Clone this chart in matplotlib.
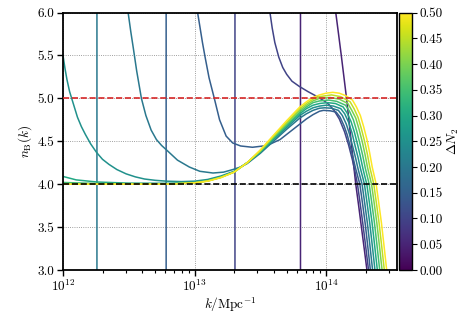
import numpy as np
import matplotlib
matplotlib.use("Agg")
import matplotlib.pyplot as plt
from matplotlib import cm, colors, ticker

plt.rcParams["font.family"] = "serif"
plt.rcParams["font.serif"] = ["cmr10", "DejaVu Serif"]
plt.rcParams["mathtext.fontset"] = "cm"
plt.rcParams["axes.formatter.use_mathtext"] = True
plt.rcParams["font.size"] = 9.5

# Delta N_2 of each curve
dn2 = [0.05, 0.10, 0.15, 0.20, 0.25, 0.30, 0.35, 0.40, 0.45, 0.50]

# log10(k / Mpc^-1) and n_B (a pole is drawn as a jump)
logk_05 = [13.805, 13.805, 14.05, 14.073, 14.095, 14.115, 14.135, 14.155, 14.172, 14.19,
           14.207, 14.225, 14.247, 14.268, 14.29, 14.31, 14.33]
nB_05 = [2.0, 9.0, 7.0, 6.0, 5.74, 5.5, 5.25, 5.0, 4.76, 4.5,
         4.25, 4.0, 3.75, 3.5, 3.24, 3.0, 2.7]

logk_10 = [13.307, 13.307, 13.52, 13.573, 13.59, 13.61, 13.64, 13.67, 13.70, 13.74, 13.795,
           13.86, 13.92, 13.985, 14.02, 14.06, 14.10, 14.14, 14.17, 14.20, 14.22, 14.238,
           14.258, 14.278, 14.30, 14.322, 14.345]
nB_10 = [2.0, 9.0, 7.0, 6.0, 5.82, 5.65, 5.48, 5.36, 5.28, 5.20, 5.14,
         5.08, 5.03, 4.97, 4.93, 4.86, 4.76, 4.61, 4.46, 4.28, 4.14, 4.0,
         3.78, 3.55, 3.28, 3.0, 2.7]

logk_15 = [12.784, 12.784, 12.99, 13.023, 13.04, 13.06, 13.08, 13.11, 13.15, 13.19, 13.24,
           13.29, 13.35, 13.44, 13.55, 13.65, 13.75, 13.8, 13.85, 13.9, 13.95, 13.98, 14.03,
           14.076, 14.106, 14.136, 14.161, 14.186, 14.206, 14.226, 14.241, 14.256, 14.276,
           14.296, 14.316, 14.336, 14.356]
nB_15 = [2.0, 9.0, 6.5, 6.0, 5.84, 5.65, 5.48, 5.24, 5.0, 4.75, 4.56,
         4.48, 4.445, 4.43, 4.45, 4.52, 4.64, 4.70, 4.76, 4.81, 4.85, 4.86, 4.855,
         4.84, 4.78, 4.68, 4.57, 4.42, 4.30, 4.17, 4.085, 4.0, 3.78,
         3.55, 3.28, 3.0, 2.7]

logk_20 = [12.258, 12.258, 12.47, 12.495, 12.515, 12.535, 12.56, 12.596, 12.63, 12.67, 12.71,
           12.75, 12.786, 12.87, 12.96, 13.04, 13.14, 13.22, 13.29, 13.35, 13.4, 13.5, 13.6,
           13.7, 13.8, 13.85, 13.9, 13.95, 13.99, 14.04, 14.093, 14.123, 14.153, 14.178,
           14.203, 14.223, 14.243, 14.258, 14.273, 14.293, 14.313, 14.333, 14.353, 14.373]
nB_20 = [2.0, 9.0, 6.5, 6.0, 5.78, 5.58, 5.32, 5.0, 4.80, 4.63, 4.52,
         4.45, 4.40, 4.28, 4.20, 4.15, 4.13, 4.14, 4.17, 4.20, 4.24, 4.36, 4.50,
         4.64, 4.77, 4.82, 4.86, 4.885, 4.89, 4.885, 4.86, 4.80, 4.70, 4.58,
         4.43, 4.31, 4.175, 4.087, 4.0, 3.78, 3.55, 3.28, 3.0, 2.7]

logk_25 = [12.0, 12.015, 12.03, 12.05, 12.066, 12.09, 12.11, 12.14, 12.17, 12.21, 12.255,
           12.30, 12.35, 12.41, 12.48, 12.55, 12.62, 12.70, 12.786, 12.9, 13.0, 13.1, 13.2,
           13.3, 13.4, 13.5, 13.6, 13.7, 13.8, 13.85, 13.9, 13.95, 14.0, 14.055, 14.111,
           14.141, 14.171, 14.196, 14.221, 14.241, 14.261, 14.276, 14.291, 14.311, 14.331,
           14.351, 14.371, 14.391]
nB_25 = [5.50, 5.35, 5.22, 5.08, 5.0, 4.88, 4.78, 4.67, 4.58, 4.47, 4.37,
         4.29, 4.23, 4.17, 4.12, 4.085, 4.06, 4.045, 4.035, 4.03, 4.035, 4.055, 4.095,
         4.15, 4.25, 4.37, 4.52, 4.66, 4.80, 4.85, 4.89, 4.91, 4.92, 4.91, 4.88,
         4.82, 4.72, 4.60, 4.44, 4.32, 4.18, 4.09, 4.0, 3.78, 3.55,
         3.28, 3.0, 2.7]

logk_30 = [12.0, 12.1, 12.26, 12.5, 12.8, 13.0, 13.1, 13.2, 13.3, 13.4, 13.5, 13.6, 13.7,
           13.8, 13.85, 13.9, 13.95, 14.01, 14.07, 14.129, 14.159, 14.189, 14.214, 14.239,
           14.259, 14.279, 14.294, 14.309, 14.329, 14.349, 14.369, 14.389, 14.409]
nB_30 = [4.09, 4.05, 4.025, 4.012, 4.01, 4.02, 4.04, 4.085, 4.145, 4.25, 4.38, 4.53, 4.68,
         4.82, 4.88, 4.92, 4.94, 4.95, 4.94, 4.90, 4.83, 4.73, 4.61, 4.46,
         4.33, 4.185, 4.09, 4.0, 3.78, 3.55, 3.28, 3.0, 2.7]

logk_35 = [12.0, 12.3, 12.8, 13.0, 13.1, 13.2, 13.3, 13.4, 13.5, 13.6, 13.7, 13.8, 13.85,
           13.9, 13.95, 14.02, 14.08, 14.147, 14.177, 14.207, 14.232, 14.257, 14.277, 14.297,
           14.312, 14.327, 14.347, 14.367, 14.387, 14.407, 14.427]
nB_35 = [4.02, 4.006, 4.004, 4.018, 4.04, 4.082, 4.142, 4.25, 4.38, 4.54, 4.69, 4.84, 4.90,
         4.95, 4.97, 4.98, 4.965, 4.92, 4.85, 4.75, 4.62, 4.47, 4.34, 4.19,
         4.095, 4.0, 3.78, 3.55, 3.28, 3.0, 2.7]

logk_40 = [12.0, 12.8, 13.0, 13.1, 13.2, 13.3, 13.4, 13.5, 13.6, 13.7, 13.8, 13.85, 13.9,
           13.95, 14.03, 14.1, 14.165, 14.195, 14.225, 14.25, 14.275, 14.295, 14.315, 14.33,
           14.345, 14.365, 14.385, 14.405, 14.425, 14.445]
nB_40 = [4.0, 4.0, 4.016, 4.038, 4.08, 4.14, 4.25, 4.39, 4.55, 4.71, 4.86, 4.92, 4.97,
         5.00, 5.01, 4.99, 4.94, 4.86, 4.77, 4.64, 4.49, 4.35, 4.19, 4.095,
         4.0, 3.78, 3.55, 3.28, 3.0, 2.7]

logk_45 = [12.0, 12.8, 13.0, 13.1, 13.2, 13.3, 13.4, 13.5, 13.6, 13.7, 13.8, 13.85, 13.9,
           13.95, 14.04, 14.11, 14.182, 14.212, 14.242, 14.267, 14.292, 14.312, 14.332, 14.347,
           14.362, 14.382, 14.402, 14.422, 14.442, 14.462]
nB_45 = [4.0, 4.0, 4.015, 4.036, 4.078, 4.14, 4.25, 4.39, 4.56, 4.72, 4.88, 4.94, 4.99,
         5.02, 5.04, 5.02, 4.96, 4.88, 4.78, 4.65, 4.50, 4.36, 4.195, 4.10,
         4.0, 3.78, 3.55, 3.28, 3.0, 2.7]

logk_50 = [12.0, 12.8, 13.0, 13.1, 13.2, 13.3, 13.4, 13.5, 13.6, 13.7, 13.8, 13.85, 13.9,
           13.95, 14.0, 14.05, 14.1, 14.15, 14.2, 14.23, 14.26, 14.285, 14.31, 14.33, 14.35,
           14.365, 14.38, 14.40, 14.42, 14.44, 14.46, 14.48]
nB_50 = [4.0, 4.0, 4.015, 4.035, 4.076, 4.14, 4.25, 4.40, 4.57, 4.74, 4.90, 4.96, 5.01,
         5.04, 5.06, 5.07, 5.06, 5.03, 4.98, 4.90, 4.80, 4.67, 4.52, 4.37, 4.20,
         4.10, 4.0, 3.78, 3.55, 3.28, 3.0, 2.7]

curves = [(logk_05, nB_05), (logk_10, nB_10), (logk_15, nB_15), (logk_20, nB_20),
          (logk_25, nB_25), (logk_30, nB_30), (logk_35, nB_35), (logk_40, nB_40),
          (logk_45, nB_45), (logk_50, nB_50)]

ref_levels = [4.0, 5.0]
ref_colors = ["black", "#d62728"]

fig = plt.figure(figsize=(4.69, 3.13), dpi=100)
ax = fig.add_axes([0.1343, 0.1374, 0.712, 0.8226])

norm = colors.Normalize(vmin=0.0, vmax=0.5)
cmap = plt.get_cmap("viridis")

for d, (lk, nb) in zip(dn2, curves):
    ax.plot(10 ** np.array(lk), nb, color=cmap(norm(d)), lw=1.1, zorder=2)

for lev, c in zip(ref_levels, ref_colors):
    ax.axhline(lev, color=c, ls="--", lw=1.2, zorder=3)

ax.set_xscale("log")
ax.set_xlim(1e12, 3.45e14)
ax.set_ylim(3.0, 6.0)
ax.set_yticks(np.arange(3.0, 6.01, 0.5))
ax.yaxis.set_major_formatter(ticker.FormatStrFormatter("%.1f"))
ax.grid(True, which="major", ls=":", color="gray", lw=0.6, zorder=0)
for s in ax.spines.values():
    s.set_linewidth(1.3)
ax.tick_params(which="major", length=4, width=1.0, pad=2.5)
ax.tick_params(which="minor", length=2.5, width=0.8)
ax.set_xlabel(r"$k/{\rm Mpc}^{-1}$", labelpad=1)
ax.set_ylabel(r"$n_{\rm B}(k)$", labelpad=2)

cax = fig.add_axes([0.8507, 0.1374, 0.0271, 0.8226])
sm = cm.ScalarMappable(norm=norm, cmap=cmap)
cb = fig.colorbar(sm, cax=cax, ticks=np.arange(0, 0.501, 0.05), format="%.2f")
cb.outline.set_linewidth(1.0)
cb.ax.tick_params(length=3.5, pad=2)
cb.set_label(r"$\Delta N_2$", labelpad=2)

fig.savefig("out.png", dpi=100)
